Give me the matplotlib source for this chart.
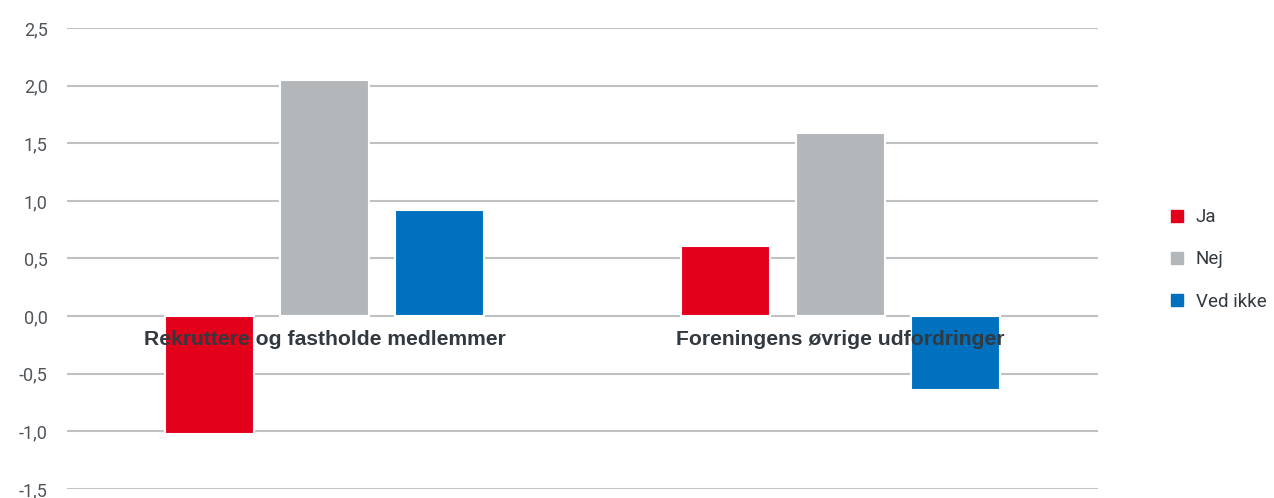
import numpy as np
import matplotlib.pyplot as plt
from matplotlib.lines import Line2D

categories = ["Rekruttere og fastholde medlemmer", "Foreningens øvrige udfordringer"]
series = ["Ja", "Nej", "Ved ikke"]
ja = [-1.02, 0.61]
nej = [2.05, 1.59]
ved_ikke = [0.92, -0.64]
yticks = [-1.5, -1.0, -0.5, 0.0, 0.5, 1.0, 1.5, 2.0, 2.5]

colors = ["#E2001A", "#B4B7B9", "#0071BF"]

fig = plt.figure(figsize=(12.74, 4.98), dpi=100)
ax = fig.add_axes([0.0526, 0.0181, 0.8093, 0.9257])

x = np.arange(len(categories))
offset = 0.223
width = 0.172
for i, (vals, c) in enumerate(zip([ja, nej, ved_ikke], colors)):
    ax.bar(x + (i - 1) * offset, vals, width, color=c, edgecolor="white",
           linewidth=1.5, zorder=3)

ax.set_xlim(-0.5, 1.5)
ax.set_ylim(-1.5, 2.5)
ax.set_yticks(yticks)
ax.set_yticklabels([f"{t:.1f}".replace(".", ",") for t in yticks],
                   fontsize=13, color="#50555a", family="Roboto")
ax.tick_params(axis="y", length=0, pad=14)
ax.set_xticks([])
for s in ax.spines.values():
    s.set_visible(False)
ax.grid(axis="y", color="#bfc1c3", linewidth=1.5, zorder=1)
ax.set_axisbelow(True)

for xi, cat in zip(x, categories):
    ax.text(xi, -0.12, cat, ha="center", va="top", fontsize=15.2,
            fontweight="bold", color="#32393f", family="Liberation Sans", zorder=5)

handles = [Line2D([], [], marker="s", linestyle="none", markersize=9,
                  markerfacecolor=c, markeredgecolor=c) for c in colors]
leg = fig.legend(handles, series, loc="center left", bbox_to_anchor=(0.896, 0.479),
                 frameon=False, handletextpad=0.0, labelspacing=1.3,
                 prop={"family": "Roboto", "size": 13.5})
for t in leg.get_texts():
    t.set_color("#32393f")

fig.savefig("out.png", dpi=100)
